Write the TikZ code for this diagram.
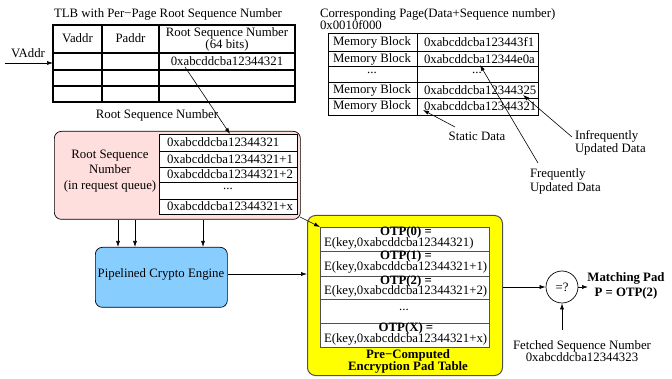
\documentclass[tikz,border=0pt]{standalone}
\usepackage{fontspec}
\setmainfont{Liberation Serif}
\usetikzlibrary{arrows.meta}
\definecolor{pinkfill}{HTML}{FFDEDE}
\definecolor{bluefill}{HTML}{87CEFF}
\definecolor{yelfill}{HTML}{FFFF00}
\definecolor{darkgr}{HTML}{505050}
\begin{document}
\begin{tikzpicture}[x=1pt,y=-1pt,
  font=\fontsize{12.8}{12.8}\selectfont,
  arr/.style={-{Latex[length=6pt,width=4pt]}, line width=0.6pt},
  txt/.style={inner sep=0pt, outer sep=0pt},
  bold/.style={inner sep=0pt, outer sep=0pt, font=\fontsize{12.8}{12.8}\selectfont\bfseries},
  grid1/.style={line width=0.6pt},
  grid2/.style={line width=1.2pt}]
\useasboundingbox (0,0) rectangle (672,379);

% ---------- TLB ----------
\node[txt] (tlbtitle) at (168,14) {TLB with Per−Page Root Sequence Number};
\node[txt, draw, grid2, minimum width=242pt, minimum height=77pt, anchor=north west] (tlb) at (53,25) {};
\draw[grid2] (53,53) -- (295,53) (53,70) -- (295,70) (53,86) -- (295,86);
\draw[grid2] (102,25) -- (102,102) (159,25) -- (159,102);
\node[txt] at (77.5,38) {Vaddr};
\node[txt] at (130.5,38) {Paddr};
\node[txt] at (227,33) {Root Sequence Number};
\node[txt] at (227,45) {(64 bits)};
\node[txt] (tlbseq) at (227,61) {0xabcddcba12344321};
\node[txt] (vaddr) at (28,53) {VAddr};
\coordinate (vstart) at (5,63);
\draw[arr] (vstart) -- (tlb.west |- vstart);
\node[txt] (rsnlabel) at (157,115) {Root Sequence Number};

% ---------- Pink request queue ----------
\node[draw, fill=pinkfill, rounded corners=7pt, line width=0.7pt, minimum width=246pt, minimum height=88pt, anchor=north west] (pink) at (54,131) {};
\node[txt, align=center] (pinktxt) at (110,171) {Root Sequence\\[2.5pt]Number\\[2.5pt](in request queue)};
\node[draw, fill=white, grid1, minimum width=138pt, minimum height=80pt, anchor=north west, inner sep=0pt] (ptab) at (159,134) {};
\draw[grid1] (159,151) -- (297,151) (159,167) -- (297,167) (159,182) -- (297,182) (159,199) -- (297,199);
\node[txt, anchor=west] (p0) at (167,142.5) {0xabcddcba12344321};
\node[txt, anchor=west] at (167,159) {0xabcddcba12344321+1};
\node[txt, anchor=west] at (167,174.5) {0xabcddcba12344321+2};
\node[txt] at (228,189) {...};
\node[txt, anchor=west] at (167,206.5) {0xabcddcba12344321+x};
\coordinate (tlbarrow) at (185,67);
\draw[arr] (tlbarrow) -- (ptab.north -| 230,0);

% ---------- Blue engine ----------
\node[draw, fill=bluefill, rounded corners=7pt, line width=0.7pt, minimum width=132pt, minimum height=60pt, anchor=north west] (blue) at (95,247) {};
\node[txt] (bluetxt) at (161,274) {Pipelined Crypto Engine};
\coordinate (c1) at (118,0);
\coordinate (c2) at (135,0);
\coordinate (c3) at (203,0);
\draw[arr] (pink.south -| c1) -- (blue.north -| c1);
\draw[arr] (pink.south -| c2) -- (blue.north -| c2);
\draw[arr] (pink.south -| c3) -- (blue.north -| c3);

% ---------- Yellow pad table ----------
\node[draw=darkgr, fill=yelfill, rounded corners=8pt, line width=1pt, minimum width=195pt, minimum height=160pt, anchor=north west] (yel) at (307,215) {};
\node[draw=darkgr, fill=white, line width=0.8pt, minimum width=169pt, minimum height=120pt, anchor=north west, inner sep=0pt] (ytab) at (320,227) {};
\draw[darkgr, line width=0.8pt] (320,251) -- (489,251) (320,276) -- (489,276) (320,299) -- (489,299) (320,323) -- (489,323);
\node[bold] at (406,232.5) {OTP(0) =};
\node[txt, anchor=west] at (324,243.5) {E(key,0xabcddcba12344321)};
\node[bold] at (406,256.5) {OTP(1) =};
\node[txt, anchor=west] at (324,267.5) {E(key,0xabcddcba12344321+1)};
\node[bold] at (406,281) {OTP(2) =};
\node[txt, anchor=west] at (324,291.5) {E(key,0xabcddcba12344321+2)};
\node[txt] at (404,310) {...};
\node[bold] at (406,328.5) {OTP(X) =};
\node[txt, anchor=west] at (324,339.5) {E(key,0xabcddcba12344321+x)};
\node[bold] (ytitle1) at (408,355) {Pre−Computed};
\node[bold] (ytitle2) at (408,367) {Encryption Pad Table};
\coordinate (pinkcorner) at (300,217);
\draw[arr] (pinkcorner) -- (ytab.north west);
\draw[arr] (blue.east |- bluetxt) -- (yel.west |- bluetxt);

% ---------- Comparator ----------
\node[draw, circle, line width=0.7pt, minimum size=32pt, inner sep=0pt] (cmp) at (562,287) {=?};
\draw[arr] (yel.east |- cmp) -- (cmp.west);
\coordinate (mpend) at (588,287);
\draw[arr] (cmp.east) -- (mpend);
\node[bold] (mp1) at (626,278) {Matching Pad};
\node[bold] (mp2) at (626,293) {P = OTP(2)};
\coordinate (fstart) at (562,330);
\draw[arr] (fstart) -- (cmp.south);
\node[txt] (f1) at (582,346) {Fetched Sequence Number};
\node[txt] (f2) at (582,357) {0xabcddcba12344323};

% ---------- Memory page ----------
\node[txt, anchor=west] (mtitle) at (320,14) {Corresponding Page(Data+Sequence number)};
\node[txt, anchor=west] (maddr) at (320,25) {0x0010f000};
\node[draw, grid1, minimum width=210pt, minimum height=81.7pt, anchor=north west, inner sep=0pt] (mtab) at (328,33.3) {};
\draw[grid1] (328,51) -- (538,51) (328,66.7) -- (538,66.7) (328,82.7) -- (538,82.7) (328,98.3) -- (538,98.3);
\draw[grid1] (417,33.3) -- (417,115);
\node[txt] at (372,42) {Memory Block};
\node[txt] at (372,59) {Memory Block};
\node[txt] at (372,73) {...};
\node[txt] at (372,90.5) {Memory Block};
\node[txt] at (372,106.5) {Memory Block};
\node[txt, anchor=west] at (424,42) {0xabcddcba123443f1};
\node[txt, anchor=west] (m2) at (424,59) {0xabcddcba12344e0a};
\node[txt] at (477,73) {...};
\node[txt, anchor=west] (m4) at (424,90.5) {0xabcddcba12344325};
\node[txt, anchor=west] (m5) at (424,106.5) {0xabcddcba12344321};

\node[txt] (static) at (477,136) {Static Data};
\node[txt, anchor=north west, align=left] (infreq) at (575,130) {Infrequently\\[1pt]Updated Data};
\node[txt, anchor=north west, align=left] (freq) at (530,169) {Frequently\\[1pt]Updated Data};
\coordinate (sa) at (455,127);
\coordinate (sb) at (423,110);
\coordinate (ia) at (572,137);
\coordinate (ib) at (523,95);
\coordinate (fa) at (538,163);
\coordinate (fb) at (480,65);
\draw[arr] (sa) -- (sb);
\draw[arr] (ia) -- (ib);
\draw[arr] (fa) -- (fb);
\end{tikzpicture}
\end{document}
